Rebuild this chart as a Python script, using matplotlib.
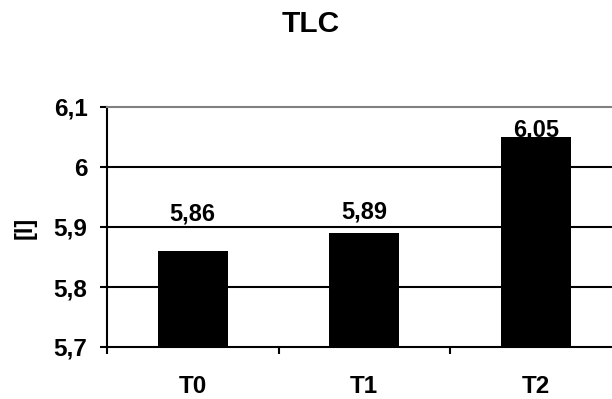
import matplotlib
matplotlib.use("Agg")
import matplotlib.pyplot as plt
from matplotlib.ticker import FixedLocator, FuncFormatter

plt.rcParams['font.family'] = ['Liberation Sans', 'DejaVu Sans']
plt.rcParams['font.weight'] = 'bold'

categories = ["T0", "T1", "T2"]
values = [5.86, 5.89, 6.05]
y_ticks = [5.7, 5.8, 5.9, 6.0, 6.1]
title = "TLC"
y_label = "[l]"

# vertical offset (points) of each value label above its bar
label_offsets = [18, 7, -3]

W, H, DPI = 612, 399, 100
fig = plt.figure(figsize=(W / DPI, H / DPI), dpi=DPI)
fig.patch.set_facecolor("white")

# plot area runs past the right edge of the canvas
left, right, bottom, top = 107, 621.5, 347, 107
ax = fig.add_axes([left / W, 1 - bottom / H, (right - left) / W, (bottom - top) / H])

x = list(range(len(categories)))
ax.bar(x, values, width=0.41, color="black", zorder=3)

ax.set_xlim(-0.5, len(categories) - 0.5)
ax.set_ylim(y_ticks[0], y_ticks[-1])

fmt = lambda v, pos: f"{v:g}".replace(".", ",")
ax.yaxis.set_major_locator(FixedLocator(y_ticks))
ax.yaxis.set_major_formatter(FuncFormatter(fmt))
for t in y_ticks[1:-1]:
    ax.axhline(t, color="black", lw=1.5, zorder=1)

ax.set_xticks(x)
ax.set_xticklabels(categories)
ax.set_xticks([i - 0.5 for i in range(len(categories) + 1)], minor=True)
ax.tick_params(axis="x", which="major", length=0, pad=20, labelsize=17.5)
ax.tick_params(axis="x", which="minor", length=5, width=1.5, direction="out")
ax.tick_params(axis="y", which="major", length=5, width=1.5, direction="out",
               pad=9, labelsize=17.5)

for side in ("left", "bottom"):
    ax.spines[side].set_color("black")
    ax.spines[side].set_linewidth(1.5)
ax.spines["top"].set_color("#808080")
ax.spines["top"].set_linewidth(1.5)
ax.spines["right"].set_visible(False)

for xi, v, off in zip(x, values, label_offsets):
    ax.annotate(f"{v:.2f}".replace(".", ","), (xi, v), xytext=(0, off),
                textcoords="offset points", ha="center", va="bottom",
                fontsize=17, fontweight="bold", annotation_clip=False)

fig.text(310.5 / W, 1 - 24 / H, title, ha="center", va="center",
         fontsize=21.5, fontweight="bold")
fig.text(25 / W, 1 - 228 / H, y_label, ha="center", va="center",
         rotation=90, fontsize=17, fontweight="bold")

fig.savefig("out.png", dpi=DPI, facecolor="white")
